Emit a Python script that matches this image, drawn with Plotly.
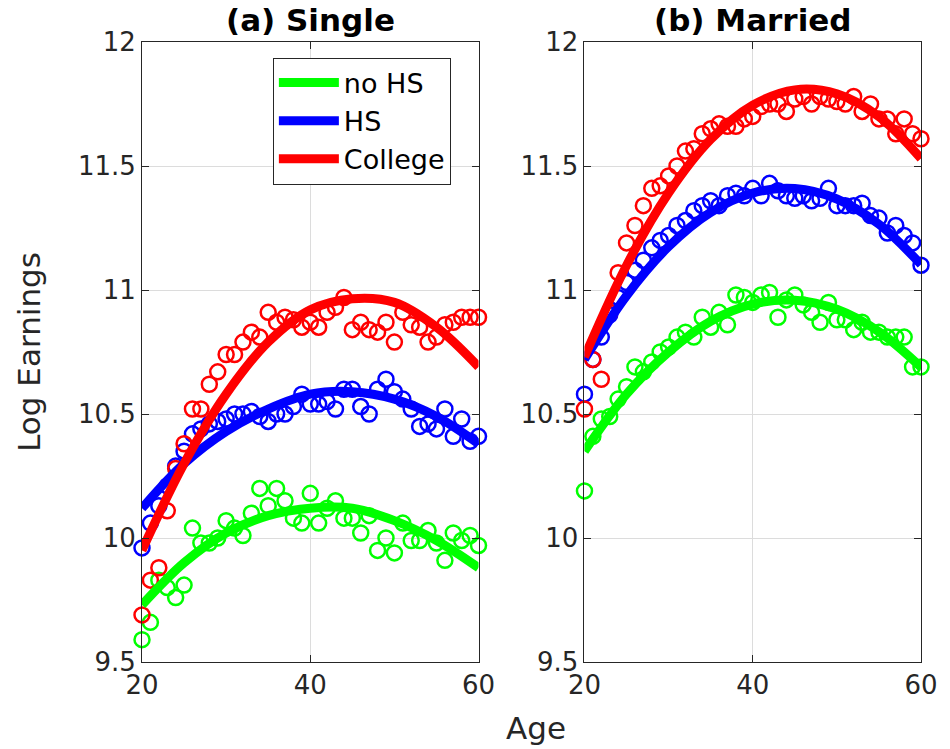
import plotly.graph_objects as go
from plotly.subplots import make_subplots

ages = list(range(20, 61))
fit_ages = [20, 25, 30, 35, 40, 45, 50, 55, 60]

# Panel (a) Single: raw points
single_nohs = [9.59, 9.66, 9.83, 9.80, 9.76, 9.81, 10.04, 9.98, 9.98, 10.00, 10.07, 10.04, 10.01, 10.10,
               10.20, 10.13, 10.20, 10.15, 10.08, 10.06, 10.18, 10.06, 10.12, 10.15, 10.08, 10.08, 10.02,
               10.09, 9.95, 10.00, 9.94, 10.06, 9.99, 9.99, 10.03, 9.98, 9.91, 10.02, 9.99, 10.01, 9.97]
single_hs = [9.96, 10.06, 10.13, 10.21, 10.29, 10.35, 10.42, 10.44, 10.46, 10.47, 10.48, 10.50, 10.50, 10.51,
             10.49, 10.47, 10.50, 10.50, 10.53, 10.58, 10.54, 10.54, 10.55, 10.52, 10.60, 10.60, 10.53,
             10.50, 10.60, 10.64, 10.59, 10.56, 10.52, 10.45, 10.46, 10.44, 10.52, 10.41, 10.48, 10.39, 10.41]
single_col = [9.69, 9.83, 9.88, 10.11, 10.28, 10.38, 10.52, 10.52, 10.62, 10.67, 10.74, 10.74, 10.79, 10.83,
              10.81, 10.91, 10.87, 10.89, 10.88, 10.85, 10.87, 10.85, 10.91, 10.93, 10.97, 10.84, 10.87,
              10.84, 10.83, 10.87, 10.79, 10.91, 10.86, 10.85, 10.79, 10.81, 10.86, 10.87, 10.89, 10.89, 10.89]

# Panel (b) Married: raw points
married_nohs = [10.19, 10.41, 10.48, 10.49, 10.56, 10.61, 10.69, 10.67, 10.71, 10.75, 10.77, 10.81, 10.83,
                10.81, 10.89, 10.85, 10.91, 10.86, 10.98, 10.97, 10.95, 10.98, 10.99, 10.89, 10.96, 10.98,
                10.94, 10.91, 10.87, 10.95, 10.88, 10.88, 10.84, 10.87, 10.83, 10.83, 10.81, 10.81, 10.81,
                10.69, 10.69]
married_hs = [10.58, 10.72, 10.81, 10.90, 10.97, 11.03, 11.08, 11.12, 11.17, 11.20, 11.22, 11.26, 11.28,
              11.32, 11.34, 11.36, 11.34, 11.38, 11.39, 11.38, 11.41, 11.38, 11.43, 11.40, 11.38, 11.37,
              11.38, 11.36, 11.37, 11.41, 11.34, 11.34, 11.34, 11.35, 11.30, 11.29, 11.23, 11.26, 11.22,
              11.19, 11.10]
married_col = [10.52, 10.72, 10.64, 10.91, 11.07, 11.19, 11.26, 11.34, 11.41, 11.42, 11.46, 11.50, 11.56,
               11.57, 11.63, 11.65, 11.67, 11.66, 11.66, 11.69, 11.70, 11.74, 11.75, 11.75, 11.72, 11.77,
               11.78, 11.75, 11.78, 11.77, 11.76, 11.75, 11.78, 11.72, 11.75, 11.69, 11.69, 11.63, 11.69,
               11.63, 11.61]

# Fitted profiles read at 5-year steps
fit_single_nohs = [9.73, 9.90, 10.02, 10.09, 10.12, 10.12, 10.07, 9.99, 9.88]
fit_single_hs = [10.12, 10.30, 10.43, 10.52, 10.58, 10.59, 10.56, 10.49, 10.38]
fit_single_col = [9.95, 10.30, 10.58, 10.79, 10.92, 10.965, 10.95, 10.85, 10.69]
fit_married_nohs = [10.35, 10.58, 10.75, 10.874, 10.943, 10.959, 10.922, 10.832, 10.689]
fit_married_hs = [10.72, 10.977, 11.175, 11.313, 11.391, 11.409, 11.367, 11.265, 11.103]
fit_married_col = [10.73, 11.099, 11.391, 11.607, 11.745, 11.807, 11.791, 11.699, 11.53]

names = ["no HS", "HS", "College"]
colors = ["#00ff00", "#0000ff", "#ff0000"]
panel_titles = ["<b>(a) Single</b>", "<b>(b) Married</b>"]
xticks = [20, 40, 60]
yticks = [9.5, 10, 10.5, 11, 11.5, 12]
ytick_text = ["9.5", "10", "10.5", "11", "11.5", "12"]

FONT = "DejaVu Sans"
AXC = "#262626"

fig = make_subplots(rows=1, cols=2, horizontal_spacing=0.136)

panels = [
    ([single_nohs, single_hs, single_col], [fit_single_nohs, fit_single_hs, fit_single_col]),
    ([married_nohs, married_hs, married_col], [fit_married_nohs, fit_married_hs, fit_married_col]),
]

for p, (raw, fits) in enumerate(panels):
    col = p + 1
    for i in range(3):
        fig.add_trace(go.Scatter(
            x=ages, y=raw[i], mode="markers",
            marker=dict(symbol="circle-open", size=15, color=colors[i], line=dict(width=2.5, color=colors[i])),
            showlegend=False, cliponaxis=False, hoverinfo="skip"), row=1, col=col)
    for i in range(3):
        fig.add_trace(go.Scatter(
            x=fit_ages, y=fits[i], mode="lines", line=dict(color=colors[i], width=9, shape="spline"),
            name=names[i], showlegend=(p == 0)), row=1, col=col)

axis_common = dict(showline=True, linecolor=AXC, linewidth=1, mirror="ticks", ticks="inside",
                   ticklen=7, tickcolor=AXC, showgrid=True, gridcolor="#dcdcdc", gridwidth=1,
                   zeroline=False, tickfont=dict(family=FONT, size=26, color=AXC))
for c in (1, 2):
    fig.update_xaxes(range=[20, 60], tickvals=xticks, **axis_common, row=1, col=c)
    fig.update_yaxes(range=[9.5, 12], tickvals=yticks, ticktext=ytick_text, **axis_common, row=1, col=c)

fig.update_layout(
    width=950, height=749,
    margin=dict(l=142, r=16, t=42, b=87),
    paper_bgcolor="white", plot_bgcolor="white",
    font=dict(family=FONT, color=AXC),
    showlegend=True,
    legend=dict(x=0.168, y=0.975, xanchor="left", yanchor="top",
                bgcolor="white", bordercolor=AXC, borderwidth=1,
                font=dict(family=FONT, size=27, color="black"),
                itemwidth=60, tracegroupgap=0),
)
fig.update_yaxes(title=dict(text="Log Earnings", font=dict(family=FONT, size=31, color=AXC), standoff=28),
                 row=1, col=1)

# panel titles
x_dom1 = fig.layout.xaxis.domain
x_dom2 = fig.layout.xaxis2.domain
for dom, t in zip([x_dom1, x_dom2], panel_titles):
    fig.add_annotation(x=(dom[0] + dom[1]) / 2, y=1.0, xref="paper", yref="paper", yshift=2,
                       text=t, showarrow=False, xanchor="center", yanchor="bottom",
                       font=dict(family=FONT, size=31, color="black"))
fig.add_annotation(x=(x_dom1[0] + x_dom2[1]) / 2 + 0.006, y=0, xref="paper", yref="paper", yshift=-46,
                   text="Age", showarrow=False, xanchor="center", yanchor="top",
                   font=dict(family=FONT, size=31, color=AXC))

fig.write_html("out.html")
